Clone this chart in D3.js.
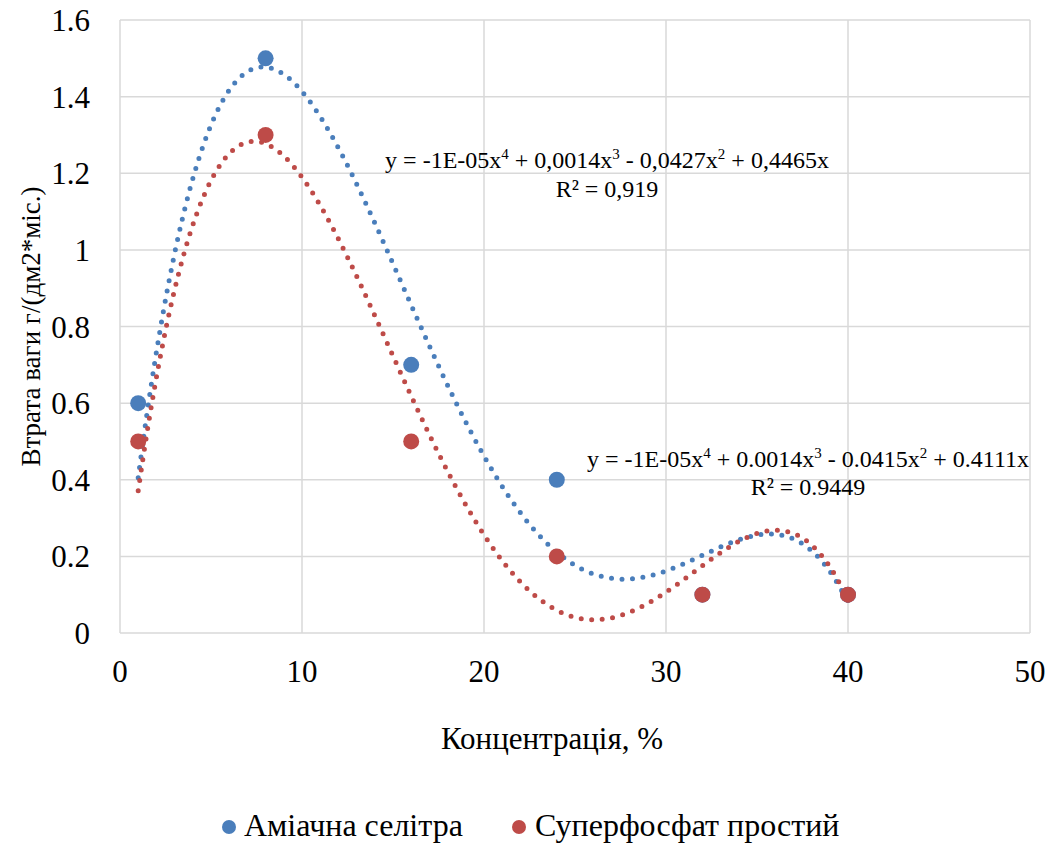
<!DOCTYPE html>
<html lang="uk">
<head>
<meta charset="UTF-8">
<title>Втрата ваги</title>
<script src="https://d3js.org/d3.v7.min.js"></script>
<style>
    body { margin: 0; background: #fff; }
</style>
</head>
<body>
<div id="chart"></div>
<script>
// Дані
const concentrations = [1, 8, 16, 24, 32, 40];
const ammoniumNitrate = [0.6, 1.5, 0.7, 0.4, 0.1, 0.1];
const superphosphate = [0.5, 1.3, 0.5, 0.2, 0.1, 0.1];
const seriesNames = ["Аміачна селітра", "Суперфосфат простий"];
const seriesColors = ["#4a7ebb", "#be4b48"];
const xTicks = [0, 10, 20, 30, 40, 50];
const yTicks = [0, 0.2, 0.4, 0.6, 0.8, 1, 1.2, 1.4, 1.6];
const eqBlue = ["y = -1E-05x", "4", " + 0,0014x", "3", " - 0,0427x", "2", " + 0,4465x"];
const r2Blue = "R² = 0,919";
const eqRed = ["y = -1E-05x", "4", " + 0.0014x", "3", " - 0.0415x", "2", " + 0.4111x"];
const r2Red = "R² = 0.9449";

const width = 1057, height = 845;
const margin = { top: 20, right: 27, bottom: 212, left: 120 };
const FONT = "Liberation Serif";

const svg = d3.select("#chart").append("svg")
    .attr("width", width)
    .attr("height", height);

function txt(g) {
    return g.append("text").attr("font-family", FONT).attr("fill", "#000");
}

const x = d3.scaleLinear().domain([0, 50]).range([margin.left, width - margin.right]);
const y = d3.scaleLinear().domain([0, 1.6]).range([height - margin.bottom, margin.top]);

// сітка
svg.append("g").selectAll("line").data(yTicks).enter().append("line")
    .attr("x1", x(0)).attr("x2", x(50))
    .attr("y1", d => y(d)).attr("y2", d => y(d))
    .attr("stroke", "#d9d9d9").attr("stroke-width", 1.5);
svg.append("g").selectAll("line").data(xTicks).enter().append("line")
    .attr("x1", d => x(d)).attr("x2", d => x(d))
    .attr("y1", y(0)).attr("y2", y(1.6))
    .attr("stroke", "#d9d9d9").attr("stroke-width", 1.5);

// підписи осей
yTicks.forEach(d => {
    txt(svg).attr("x", x(0) - 30).attr("y", y(d) + 11)
        .attr("text-anchor", "end").attr("font-size", 31)
        .text(d);
});
xTicks.forEach(d => {
    txt(svg).attr("x", x(d)).attr("y", y(0) + 49)
        .attr("text-anchor", "middle").attr("font-size", 31)
        .text(d);
});

txt(svg)
    .attr("x", 552).attr("y", 749)
    .attr("text-anchor", "middle").attr("font-size", 31)
    .text("Концентрація, %");
txt(svg)
    .attr("transform", `translate(40, ${(y(0) + y(1.6)) / 2}) rotate(-90)`)
    .attr("text-anchor", "middle").attr("font-size", 27)
    .text("Втрата ваги г/(дм2*міс.)");

// поліноміальний тренд 4-го порядку без вільного члена (МНК)
function polyFit(xs, ys) {
    const s = 40;
    const rows = xs.map(v => [1, 2, 3, 4].map(p => Math.pow(v / s, p)));
    const A = [0, 1, 2, 3].map(i => [0, 1, 2, 3].map(j => d3.sum(rows, r => r[i] * r[j])));
    const b = [0, 1, 2, 3].map(i => d3.sum(rows, (r, k) => r[i] * ys[k]));
    for (let i = 0; i < 4; i++) {
        let p = i;
        for (let k = i + 1; k < 4; k++) if (Math.abs(A[k][i]) > Math.abs(A[p][i])) p = k;
        [A[i], A[p]] = [A[p], A[i]]; [b[i], b[p]] = [b[p], b[i]];
        for (let k = i + 1; k < 4; k++) {
            const f = A[k][i] / A[i][i];
            for (let j = i; j < 4; j++) A[k][j] -= f * A[i][j];
            b[k] -= f * b[i];
        }
    }
    const c = [0, 0, 0, 0];
    for (let i = 3; i >= 0; i--) {
        let t = b[i];
        for (let j = i + 1; j < 4; j++) t -= A[i][j] * c[j];
        c[i] = t / A[i][i];
    }
    return v => c.reduce((acc, ci, i) => acc + ci * Math.pow(v / s, i + 1), 0);
}

const line = d3.line().x(d => x(d[0])).y(d => y(d[1]));
const allSeries = [ammoniumNitrate, superphosphate];

allSeries.forEach((vals, si) => {
    const f = polyFit(concentrations, vals);
    const pts = d3.range(0, 401).map(i => {
        const v = 1 + 39 * i / 400;
        return [v, f(v)];
    });
    svg.append("path")
        .attr("d", line(pts))
        .attr("fill", "none")
        .attr("stroke", seriesColors[si])
        .attr("stroke-width", 5)
        .attr("stroke-linecap", "round")
        .attr("stroke-dasharray", "0 10.5");
});

allSeries.forEach((vals, si) => {
    svg.append("g").selectAll("circle").data(vals).enter().append("circle")
        .attr("cx", (d, i) => x(concentrations[i]))
        .attr("cy", d => y(d))
        .attr("r", 8)
        .attr("fill", seriesColors[si]);
});

// рівняння трендів
function equation(parts, cx, cy, r2, ry) {
    const t = txt(svg)
        .attr("x", cx).attr("y", cy)
        .attr("text-anchor", "middle").attr("font-size", 24);
    parts.forEach((p, i) => {
        if (i % 2 === 1) {
            t.append("tspan").attr("dy", -9).attr("font-size", 15).text(p);
        } else {
            t.append("tspan").attr("dy", i === 0 ? 0 : 9).text(p);
        }
    });
    txt(svg)
        .attr("x", cx).attr("y", ry)
        .attr("text-anchor", "middle").attr("font-size", 24)
        .text(r2);
}
equation(eqBlue, 607, 168, r2Blue, 197);
equation(eqRed, 808, 467, r2Red, 495);

// легенда
const legend = [{ cx: 229, tx: 244 }, { cx: 519, tx: 535 }];
legend.forEach((l, i) => {
    svg.append("circle").attr("cx", l.cx).attr("cy", 827).attr("r", 7).attr("fill", seriesColors[i]);
    txt(svg).attr("x", l.tx).attr("y", 836).attr("font-size", 32).text(seriesNames[i]);
});
</script>
</body>
</html>
